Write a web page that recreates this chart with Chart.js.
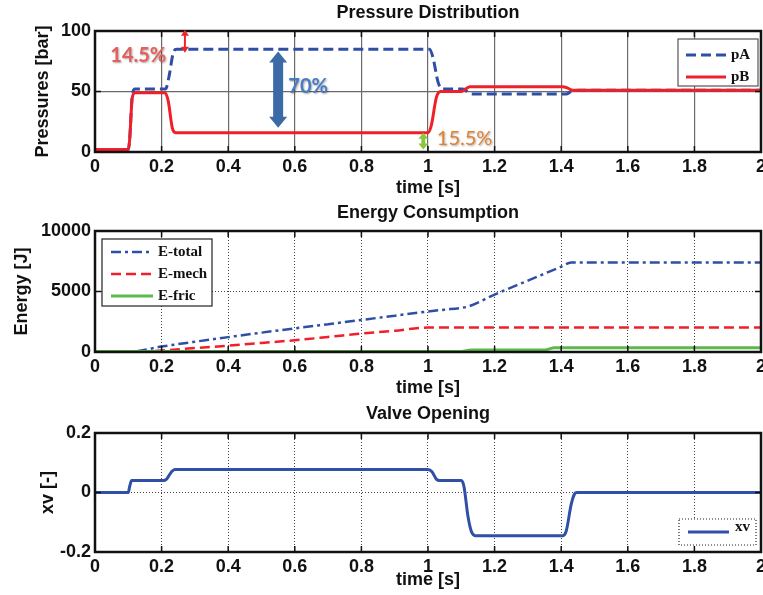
<!DOCTYPE html>
<html>
<head>
<meta charset="utf-8">
<script src="https://cdn.jsdelivr.net/npm/chart.js@4/dist/chart.umd.min.js"></script>
<style>
  html, body { margin: 0; padding: 0; background: #fff; overflow: hidden; }
  canvas { position: absolute; left: 0; }
  #pressureChart { top: 0; }
  #energyChart { top: 200px; }
  #valveChart { top: 400px; }
</style>
</head>
<body>
<canvas id="pressureChart" width="770" height="200"></canvas>
<canvas id="energyChart" width="770" height="200"></canvas>
<canvas id="valveChart" width="770" height="195"></canvas>
<script>
// ---- data ----
const timeTicks = [0, 0.2, 0.4, 0.6, 0.8, 1, 1.2, 1.4, 1.6, 1.8, 2];
const pressureTicks = [0, 50, 100];
const energyTicks = [0, 5000, 10000];
const valveTicks = [-0.2, 0, 0.2];

const pA_t = [0, 0.1, 0.104, 0.112, 0.12, 0.212, 0.222, 0.235, 0.245, 1.005, 1.015, 1.03, 1.042, 1.105, 1.118, 1.13, 1.415, 1.43, 1.45, 2];
const pA_v = [2, 2, 10, 47, 52, 52, 62, 82, 85, 85, 78, 58, 52, 52, 50, 48, 48, 50, 51, 51];

const pB_t = [0, 0.1, 0.104, 0.112, 0.12, 0.21, 0.22, 0.232, 0.242, 1.0, 1.01, 1.025, 1.038, 1.1, 1.112, 1.126, 1.405, 1.418, 1.435, 2];
const pB_v = [2, 2, 10, 45, 49, 49, 42, 20, 16, 16, 22, 45, 50, 50, 52, 54, 54, 53, 51, 51];

const eTotal_t = [0, 0.1, 0.2, 0.3, 0.4, 0.5, 0.6, 0.7, 0.8, 0.9, 1.0, 1.05, 1.1, 1.12, 1.2, 1.3, 1.4, 1.43, 2];
const eTotal_v = [0, 0, 450, 850, 1230, 1600, 1950, 2300, 2650, 3000, 3350, 3500, 3650, 3750, 4750, 5900, 7050, 7400, 7400];

const eMech_t = [0, 0.12, 0.2, 0.3, 0.4, 0.5, 0.6, 0.7, 0.8, 0.9, 1.0, 2];
const eMech_v = [0, 0, 120, 330, 520, 750, 970, 1240, 1520, 1750, 2020, 2020];

const eFric_t = [0, 1.1, 1.13, 1.35, 1.38, 2];
const eFric_v = [40, 40, 170, 170, 350, 350];

const xv_t = [0, 0.1, 0.104, 0.11, 0.205, 0.215, 0.23, 0.24, 1.0, 1.012, 1.025, 1.035, 1.1, 1.108, 1.12, 1.13, 1.142, 1.405, 1.415, 1.43, 1.44, 1.447, 2];
const xv_v = [0, 0, 0.02, 0.04, 0.04, 0.045, 0.07, 0.077, 0.077, 0.07, 0.045, 0.04, 0.04, 0.02, -0.08, -0.13, -0.145, -0.145, -0.13, -0.04, -0.005, 0, 0];

// annotations on the pressure plot, in data units
const noteText = ["14.5%", "70%", "15.5%"];
const noteX = [0.13, 0.64, 1.11];
const noteY = [80, 54, 11];
const arrowX = [0.27, 0.55, 0.986];
const arrowFrom = [101, 83, 16];
const arrowTo = [82, 20, 2];

const pts = (t, v) => t.map((x, i) => ({ x, y: v[i] }));

const FONT = "'Liberation Sans', Arial, sans-serif";
const SERIF = "'Liberation Serif', 'Times New Roman', serif";

// inward ticks + black box round the plot area
const frame = {
  id: "frame",
  afterDatasetsDraw(chart) {
    const { ctx, chartArea: a, scales } = chart;
    ctx.save();
    ctx.strokeStyle = "#111";
    ctx.lineWidth = 1.5;
    ctx.beginPath();
    scales.x.ticks.forEach((t) => {
      const px = scales.x.getPixelForValue(t.value);
      ctx.moveTo(px, a.top);
      ctx.lineTo(px, a.top + 6);
      ctx.moveTo(px, a.bottom);
      ctx.lineTo(px, a.bottom - 6);
    });
    scales.y.ticks.forEach((t) => {
      const py = scales.y.getPixelForValue(t.value);
      ctx.moveTo(a.left, py);
      ctx.lineTo(a.left + 6, py);
      ctx.moveTo(a.right, py);
      ctx.lineTo(a.right - 6, py);
    });
    ctx.stroke();
    ctx.lineWidth = 2.5;
    ctx.strokeRect(a.left, a.top, a.right - a.left, a.bottom - a.top);
    ctx.restore();
  },
};

// matlab-like legend box
const boxLegend = {
  id: "boxLegend",
  afterDraw(chart, args, opts) {
    const { ctx } = chart;
    ctx.save();
    ctx.fillStyle = "#fff";
    ctx.fillRect(opts.x, opts.y, opts.w, opts.h);
    ctx.strokeStyle = opts.borderColor || "#222";
    ctx.lineWidth = 1.2;
    ctx.setLineDash(opts.dotted ? [1, 2] : []);
    ctx.strokeRect(opts.x, opts.y, opts.w, opts.h);
    chart.data.datasets.forEach((ds, i) => {
      const y = opts.rows[i];
      ctx.strokeStyle = ds.borderColor;
      ctx.lineWidth = ds.borderWidth;
      ctx.setLineDash(ds.borderDash || []);
      ctx.beginPath();
      ctx.moveTo(opts.lineFrom, y);
      ctx.lineTo(opts.lineTo, y);
      ctx.stroke();
      ctx.setLineDash([]);
      ctx.fillStyle = "#111";
      ctx.font = "bold 15px " + SERIF;
      ctx.textBaseline = "middle";
      ctx.fillText(ds.label, opts.textX, y + (opts.textShift || 0));
    });
    ctx.restore();
  },
};

function doubleArrow(ctx, x, y1, y2, shaft, head, headLen, color) {
  const top = Math.min(y1, y2);
  const bot = Math.max(y1, y2);
  ctx.fillStyle = color;
  ctx.beginPath();
  ctx.moveTo(x, top);
  ctx.lineTo(x + head / 2, top + headLen);
  ctx.lineTo(x + shaft / 2, top + headLen);
  ctx.lineTo(x + shaft / 2, bot - headLen);
  ctx.lineTo(x + head / 2, bot - headLen);
  ctx.lineTo(x, bot);
  ctx.lineTo(x - head / 2, bot - headLen);
  ctx.lineTo(x - shaft / 2, bot - headLen);
  ctx.lineTo(x - shaft / 2, top + headLen);
  ctx.lineTo(x - head / 2, top + headLen);
  ctx.closePath();
  ctx.fill();
}

const pressureNotes = {
  id: "pressureNotes",
  afterDatasetsDraw(chart) {
    const { ctx, scales: { x, y } } = chart;
    ctx.save();
    const arrowStyle = [
      { shaft: 2, head: 8, len: 6, color: "#e8262b" },
      { shaft: 10, head: 18, len: 11, color: "#3b6aa6" },
      { shaft: 4, head: 10, len: 6, color: "#8cc63f" },
    ];
    arrowX.forEach((ax, i) => {
      const s = arrowStyle[i];
      doubleArrow(ctx, x.getPixelForValue(ax), y.getPixelForValue(arrowFrom[i]),
        y.getPixelForValue(arrowTo[i]), s.shaft, s.head, s.len, s.color);
    });
    const textStyle = [
      { font: "bold 20px Lato, sans-serif", color: "#e4605c" },
      { font: "bold 20px Lato, sans-serif", color: "#4a7cc4" },
      { font: "20px Lato, sans-serif", color: "#e3822f" },
    ];
    ctx.textAlign = "center";
    ctx.textBaseline = "middle";
    noteText.forEach((txt, i) => {
      ctx.font = textStyle[i].font;
      ctx.fillStyle = textStyle[i].color;
      ctx.shadowColor = "rgba(0,0,0,0.35)";
      ctx.shadowBlur = 2;
      ctx.shadowOffsetX = 1;
      ctx.shadowOffsetY = 1;
      ctx.fillText(txt, x.getPixelForValue(noteX[i]), y.getPixelForValue(noteY[i]));
    });
    ctx.restore();
  },
};

function baseOptions(cfg) {
  return {
    responsive: false,
    animation: false,
    events: [],
    layout: { padding: { left: 0, right: 9, top: 0, bottom: 0 } },
    elements: { point: { radius: 0 }, line: { cubicInterpolationMode: "monotone", borderCapStyle: "butt" } },
    plugins: {
      legend: { display: false },
      tooltip: { enabled: false },
      title: {
        display: true,
        text: cfg.title,
        fullSize: false,
        color: "#111",
        font: { family: FONT, size: 18, weight: "bold" },
        padding: cfg.titlePad,
      },
      boxLegend: cfg.legend,
    },
    scales: {
      x: {
        type: "linear",
        min: 0,
        max: 2,
        afterBuildTicks: (s) => { s.ticks = timeTicks.map((v) => ({ value: v })); },
        afterFit: (s) => { s.height = cfg.xHeight; },
        ticks: { color: "#111", font: { family: FONT, size: 18, weight: "bold" }, padding: 4, maxRotation: 0, callback: (v) => String(v) },
        grid: { color: cfg.gridColor, lineWidth: cfg.gridWidth, drawTicks: false },
        border: { display: false, dash: cfg.gridDash },
        title: { display: true, text: "time [s]", color: "#111", font: { family: FONT, size: 18, weight: "bold" }, padding: { top: 0, bottom: cfg.xTitlePad } },
      },
      y: {
        type: "linear",
        min: cfg.yTicks[0],
        max: cfg.yTicks[cfg.yTicks.length - 1],
        afterBuildTicks: (s) => { s.ticks = cfg.yTicks.map((v) => ({ value: v })); },
        afterFit: (s) => { s.width = 95; },
        ticks: { color: "#111", font: { family: FONT, size: 18, weight: "bold" }, padding: 4, callback: (v) => String(v) },
        grid: { color: cfg.gridColor, lineWidth: cfg.gridWidth, drawTicks: false },
        border: { display: false, dash: cfg.gridDash },
        title: { display: true, text: cfg.yTitle, color: "#111", font: { family: FONT, size: 18, weight: "bold" }, padding: { top: cfg.yTitlePad, bottom: 0 } },
      },
    },
  };
}

new Chart(document.getElementById("pressureChart"), {
  type: "line",
  data: {
    datasets: [
      { label: "pA", data: pts(pA_t, pA_v), borderColor: "#2f4fa6", borderWidth: 3, borderDash: [10, 5], order: 1 },
      { label: "pB", data: pts(pB_t, pB_v), borderColor: "#f0202a", borderWidth: 3, order: 0 },
    ],
  },
  options: baseOptions({
    title: "Pressure Distribution",
    titlePad: { top: 2, bottom: 7.4 },
    yTicks: pressureTicks,
    yTitle: "Pressures [bar]",
    yTitlePad: 32,
    xHeight: 48,
    xTitlePad: 1,
    gridColor: "#6a6a6a",
    gridWidth: 1.2,
    gridDash: [],
    legend: { x: 678, y: 39, w: 80, h: 47, rows: [55, 77], lineFrom: 686, lineTo: 726, textX: 731, borderColor: "#555" },
  }),
  plugins: [frame, pressureNotes, boxLegend],
});

new Chart(document.getElementById("energyChart"), {
  type: "line",
  data: {
    datasets: [
      { label: "E-total", data: pts(eTotal_t, eTotal_v), borderColor: "#2f4fa6", borderWidth: 2.5, borderDash: [10, 4, 3, 4], order: 2 },
      { label: "E-mech", data: pts(eMech_t, eMech_v), borderColor: "#f0202a", borderWidth: 2.5, borderDash: [10, 5], order: 1 },
      { label: "E-fric", data: pts(eFric_t, eFric_v), borderColor: "#5cb94a", borderWidth: 3, order: 0 },
    ],
  },
  options: baseOptions({
    title: "Energy Consumption",
    titlePad: { top: 2, bottom: 7.4 },
    yTicks: energyTicks,
    yTitle: "Energy [J]",
    yTitlePad: 11,
    xHeight: 48,
    xTitlePad: 1,
    gridColor: "#444",
    gridWidth: 1,
    gridDash: [1, 2],
    legend: { x: 102, y: 39, w: 110, h: 67, rows: [52, 74, 96], lineFrom: 111, lineTo: 153, textX: 158, borderColor: "#222" },
  }),
  plugins: [frame, boxLegend],
});

new Chart(document.getElementById("valveChart"), {
  type: "line",
  data: {
    datasets: [
      { label: "xv", data: pts(xv_t, xv_v), borderColor: "#3050a8", borderWidth: 3 },
    ],
  },
  options: baseOptions({
    title: "Valve Opening",
    titlePad: { top: 3, bottom: 8.4 },
    yTicks: valveTicks,
    yTitle: "xv [-]",
    yTitlePad: 37,
    xHeight: 43,
    xTitlePad: 4,
    gridColor: "#444",
    gridWidth: 1,
    gridDash: [1, 2],
    legend: { x: 679, y: 119, w: 77, h: 26, rows: [132], lineFrom: 688, lineTo: 729, textX: 735, textShift: -5, dotted: true, borderColor: "#222" },
  }),
  plugins: [frame, boxLegend],
});
</script>
</body>
</html>
